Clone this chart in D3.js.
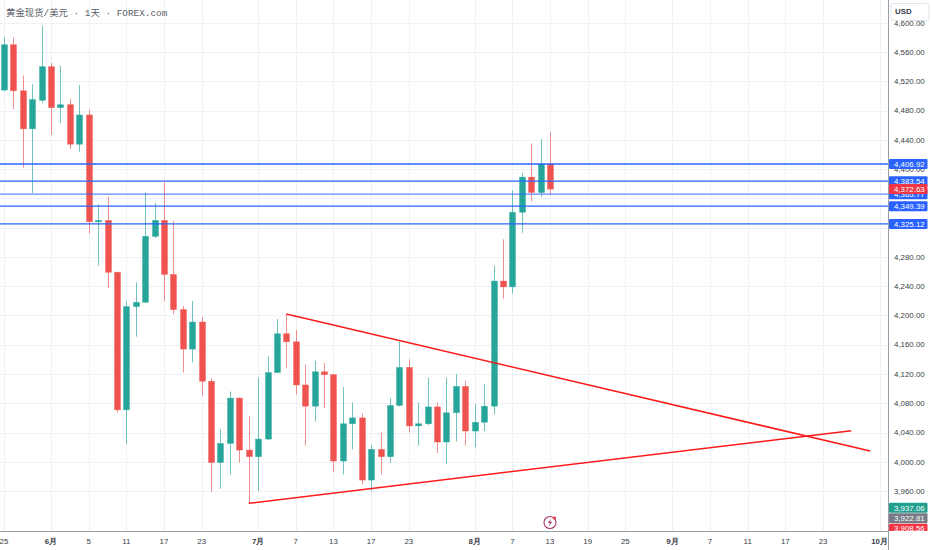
<!DOCTYPE html>
<html>
<head>
<meta charset="utf-8">
<script src="https://cdn.jsdelivr.net/npm/d3@7"></script>
<style>
    body { margin: 0; background: #ffffff; }
    svg { display: block; }
    .grid line { stroke: #eef1f6; stroke-width: 1; }
    .axisLine { stroke: #9a9da6; stroke-width: 1; }
    .priceText, .dateText { font-family: "Liberation Sans", Arial, sans-serif; font-size: 7.9px; fill: #3b3e48; }
    .dateText.month { font-weight: bold; }
    .title { font-family: "Liberation Mono", "Noto Sans CJK SC", monospace; font-size: 9.4px; fill: #5a5d68; }
    .level { stroke: #2962ff; stroke-width: 1.4; }
    .trend { stroke: #ff1a1a; stroke-width: 1.5; fill: none; }
    .up { fill: #26a69a; stroke: #26a69a; }
    .down { fill: #ef5350; stroke: #ef5350; }
    .wick.up { stroke: #26a69a; stroke-opacity: 0.65; }
    .wick.down { stroke: #ef5350; stroke-opacity: 0.65; }
</style>
</head>
<body>
<div id="chart"></div>
<script>

// first and last trading day on the time axis (weekdays only)
var firstDay = "2026-05-25";
var lastDay = "2026-10-14";

// daily candles of spot gold, starting on firstDay
var opens  = [4508, 4570, 4507, 4455, 4494, 4540, 4484, 4488, 4434, 4474,
              4328, 4330, 4259, 4071, 4212, 4218, 4308, 4330, 4256, 4208,
              4154, 4191, 4110, 3999, 4025, 4087, 4016, 4007, 4031, 4122,
              4175, 4164, 4105, 4076, 4123, 4119, 4001, 4052, 4060, 3975,
              4017, 4007, 4077, 4129, 4049, 4052, 4075, 4027, 4067, 4103,
              4042, 4054, 4076, 4247, 4239, 4341, 4389, 4368, 4406.92];
var highs  = [4580, 4580, 4528, 4516, 4596, 4545, 4541, 4496, 4515, 4481,
              4352, 4362, 4260, 4219, 4245, 4368, 4354, 4382, 4329, 4213,
              4220, 4198, 4114, 4044, 4096, 4088, 4062, 4115, 4144, 4195,
              4202, 4180, 4133, 4138, 4135, 4120, 4102, 4081, 4066, 4023,
              4040, 4087, 4165, 4140, 4081, 4115, 4081, 4115, 4120, 4111,
              4079, 4106, 4268, 4304, 4371, 4395, 4435, 4441, 4450];
var lows   = [4506, 4482, 4402, 4367, 4490, 4447, 4463, 4427, 4424, 4312,
              4268, 4237, 4067, 4024, 4171, 4217, 4306, 4220, 4202, 4122,
              4136, 4090, 3959, 3963, 3983, 3999, 3943, 3960, 4030, 4121,
              4128, 4092, 4022, 4055, 4073, 3986, 3983, 4017, 3969, 3960,
              3983, 3999, 4076, 4040, 4022, 4050, 4012, 3997, 4028, 4022,
              4020, 4042, 4065, 4223, 4230, 4313, 4356, 4362, 4365.77];
var closes = [4570, 4507, 4455, 4495, 4540, 4484, 4488, 4434, 4474, 4328,
              4330, 4259, 4071, 4212, 4218, 4308, 4330, 4256, 4208, 4154,
              4191, 4110, 3999, 4025, 4087, 4016, 4007, 4031, 4122, 4175,
              4164, 4105, 4076, 4123, 4119, 4001, 4052, 4060, 3975, 4017,
              4007, 4077, 4129, 4049, 4052, 4075, 4027, 4067, 4103, 4042,
              4054, 4076, 4247, 4239, 4341, 4389, 4368, 4406.92, 4372.63];

// time axis labels
var tickDates  = ["2026-05-25", "2026-06-01", "2026-06-05", "2026-06-11", "2026-06-17", "2026-06-23",
                  "2026-07-01", "2026-07-07", "2026-07-13", "2026-07-17", "2026-07-23",
                  "2026-08-03", "2026-08-07", "2026-08-13", "2026-08-19", "2026-08-25",
                  "2026-09-01", "2026-09-07", "2026-09-11", "2026-09-17", "2026-09-23", "2026-10-01"];
var tickLabels = ["25", "6月", "5", "11", "17", "23",
                  "7月", "7", "13", "17", "23",
                  "8月", "7", "13", "19", "25",
                  "9月", "7", "11", "17", "23", "10月"];

// price axis labels
var priceTicks = [3960, 4000, 4040, 4080, 4120, 4160, 4200, 4240, 4280,
                  4320, 4360, 4400, 4440, 4480, 4520, 4560, 4600];

// horizontal levels drawn on the chart
var levelPrices = [4406.92, 4383.54, 4365.77, 4349.39, 4325.12];
var lastPrice = 4372.63;

// labels stacked at the foot of the price scale
var footPrices = [3937.06, 3922.81, 3908.56];

// triangle drawn over the candles: [date, price]
var upperLine = [["2026-07-06", 4202], ["2026-09-30", 4014.7]];
var lowerLine = [["2026-06-30", 3943.2], ["2026-09-28", 4042.4]];

var eventDay = "2026-08-13";
var titleText = "黄金现货/美元 · 1天 · FOREX.com";

/**
 * Constructor for the candle chart
 */
function CandleChart() {
    var self = this;
    self.init();
}

/**
 * Sets up the svg, the scales and the trading calendar
 */
CandleChart.prototype.init = function () {
    var self = this;

    self.width = 932;
    self.height = 550;
    self.plotRight = 888;
    self.plotBottom = 531;

    var parseDay = d3.timeParse("%Y-%m-%d");
    self.fmtDay = d3.timeFormat("%Y-%m-%d");

    //weekdays only, like the daily bars
    self.tradingDays = d3.timeDay.range(parseDay(firstDay), parseDay(lastDay))
        .filter(function (d) { return d.getDay() !== 0 && d.getDay() !== 6; });
    self.dayIndex = {};
    self.tradingDays.forEach(function (d, i) { self.dayIndex[self.fmtDay(d)] = i; });

    self.x = d3.scaleLinear()
        .domain([-0.42, 93.9])
        .range([0, self.plotRight]);

    self.y = d3.scaleLinear()
        .domain([3905.4, 4631.1])
        .range([self.plotBottom, 0]);

    self.svg = d3.select("#chart").append("svg")
        .attr("width", self.width)
        .attr("height", self.height);

    self.svg.append("clipPath").attr("id", "plotClip")
        .append("rect")
        .attr("x", 0).attr("y", 0)
        .attr("width", self.plotRight).attr("height", self.plotBottom);
};

CandleChart.prototype.xOf = function (day) {
    var self = this;
    return self.x(self.dayIndex[day]);
};

/**
 * Draws grid, candles, drawings and both axes
 */
CandleChart.prototype.update = function () {
    var self = this;
    var svg = self.svg;

    var candles = opens.map(function (o, i) {
        return {i: i, open: o, high: highs[i], low: lows[i], close: closes[i]};
    });

    //grid
    var grid = svg.append("g").attr("class", "grid");
    grid.selectAll(".vgrid").data(tickDates)
        .enter().append("line")
        .attr("x1", function (d) { return Math.round(self.xOf(d)) + 0.5; })
        .attr("x2", function (d) { return Math.round(self.xOf(d)) + 0.5; })
        .attr("y1", 0)
        .attr("y2", self.plotBottom);
    grid.selectAll(".hgrid").data(priceTicks)
        .enter().append("line")
        .attr("x1", 0)
        .attr("x2", self.plotRight)
        .attr("y1", function (d) { return Math.round(self.y(d)) + 0.5; })
        .attr("y2", function (d) { return Math.round(self.y(d)) + 0.5; });

    var plot = svg.append("g").attr("clip-path", "url(#plotClip)");

    //candles
    var bodyWidth = 6;
    var c = plot.selectAll(".candle").data(candles)
        .enter().append("g")
        .attr("class", "candle");
    c.append("line")
        .attr("class", function (d) { return "wick " + (d.close >= d.open ? "up" : "down"); })
        .attr("x1", function (d) { return Math.round(self.x(d.i)) + 0.5; })
        .attr("x2", function (d) { return Math.round(self.x(d.i)) + 0.5; })
        .attr("y1", function (d) { return self.y(d.high); })
        .attr("y2", function (d) { return self.y(d.low); })
        .attr("stroke-width", 1);
    c.append("rect")
        .attr("class", function (d) { return d.close >= d.open ? "up" : "down"; })
        .attr("x", function (d) { return Math.round(self.x(d.i)) + 0.5 - bodyWidth / 2; })
        .attr("y", function (d) { return self.y(Math.max(d.open, d.close)); })
        .attr("width", bodyWidth)
        .attr("height", function (d) {
            return Math.max(1.5, self.y(Math.min(d.open, d.close)) - self.y(Math.max(d.open, d.close)));
        })
        .attr("stroke-width", 0.6)
        .attr("stroke-opacity", 0.6);

    //levels
    plot.selectAll(".level").data(levelPrices)
        .enter().append("line")
        .attr("class", "level")
        .attr("x1", 0)
        .attr("x2", self.plotRight)
        .attr("y1", function (d) { return self.y(d); })
        .attr("y2", function (d) { return self.y(d); })
        .attr("stroke-opacity", function (d, i) { return i === 2 ? 0.75 : 1; })
        .attr("stroke-width", function (d, i) { return i === 2 ? 2 : 1.4; });

    //triangle
    var trend = d3.line()
        .x(function (d) { return self.xOf(d[0]); })
        .y(function (d) { return self.y(d[1]); });
    plot.selectAll(".trend").data([upperLine, lowerLine])
        .enter().append("path")
        .attr("class", "trend")
        .attr("d", trend);

    //event marker on the last bar
    var ev = plot.append("g")
        .attr("transform", "translate(" + self.xOf(eventDay) + "," + (self.plotBottom - 8.5) + ")");
    ev.append("circle").attr("r", 6).attr("fill", "#fff")
        .attr("stroke", "#a33a6c").attr("stroke-width", 1.1);
    ev.append("path")
        .attr("d", "M1.3,-4 L-2.2,0.6 L0,0.6 L-1.3,4 L2.2,-0.7 L0,-0.7 Z")
        .attr("fill", "#a33a6c");
    ev.append("circle").attr("cx", 4.5).attr("cy", -4.5).attr("r", 1.6).attr("fill", "#f23645");

    //title
    svg.append("text")
        .attr("class", "title")
        .attr("x", 6)
        .attr("y", 15.5)
        .attr("xml:space", "preserve")
        .text(titleText);

    //axes frame
    svg.append("line").attr("class", "axisLine")
        .attr("x1", self.plotRight + 0.5).attr("x2", self.plotRight + 0.5)
        .attr("y1", 0).attr("y2", self.height);
    svg.append("line").attr("class", "axisLine")
        .attr("x1", 0).attr("x2", self.plotRight + 0.5)
        .attr("y1", self.plotBottom + 0.5).attr("y2", self.plotBottom + 0.5);

    //time axis
    svg.selectAll(".dateText").data(tickDates)
        .enter().append("text")
        .attr("class", function (d, i) { return "dateText" + (tickLabels[i].indexOf("月") >= 0 ? " month" : ""); })
        .attr("x", function (d) { return self.xOf(d); })
        .attr("y", 544)
        .attr("text-anchor", "middle")
        .text(function (d, i) { return tickLabels[i]; });

    //price axis, grid labels too close to a level box are hidden
    var labelX = self.plotRight + 6;
    var shownTicks = priceTicks.filter(function (t) {
        return levelPrices.every(function (p) { return Math.abs(self.y(t) - self.y(p)) > 4.6; });
    });
    svg.selectAll(".priceText").data(shownTicks)
        .enter().append("text")
        .attr("class", "priceText")
        .attr("x", labelX)
        .attr("y", function (d) { return self.y(d); })
        .attr("dy", "0.35em")
        .text(function (d) { return d3.format(",.2f")(d); });

    var boxes = [];
    footPrices.forEach(function (p, i) {
        boxes.push({price: p, color: ["#22a08f", "#787b86", "#f23645"][i]});
    });
    boxes.push({price: levelPrices[0], color: "#2962ff"});
    boxes.push({price: levelPrices[1], color: "#2962ff"});
    boxes.push({price: levelPrices[2], color: "#2962ff"});
    boxes.push({price: lastPrice, color: "#f23645"});
    boxes.push({price: levelPrices[3], color: "#2962ff"});
    boxes.push({price: levelPrices[4], color: "#2962ff"});

    svg.append("clipPath").attr("id", "axisClip")
        .append("rect")
        .attr("x", self.plotRight + 1).attr("y", 0)
        .attr("width", self.width - self.plotRight).attr("height", self.plotBottom);

    var b = svg.append("g").attr("clip-path", "url(#axisClip)")
        .selectAll(".priceBox").data(boxes)
        .enter().append("g");
    b.append("rect")
        .attr("x", self.plotRight + 1)
        .attr("y", function (d) { return self.y(d.price) - 5; })
        .attr("width", 38.5)
        .attr("height", 10)
        .attr("rx", 1)
        .attr("fill", function (d) { return d.color; });
    b.append("text")
        .attr("class", "priceText")
        .attr("x", labelX)
        .attr("y", function (d) { return self.y(d.price); })
        .attr("dy", "0.35em")
        .style("fill", "#ffffff")
        .text(function (d) { return d3.format(",.2f")(d.price); });

    //currency box, it sits over the top grid label
    svg.append("rect")
        .attr("x", self.plotRight + 3).attr("y", 3.5)
        .attr("width", 38).attr("height", 17)
        .attr("rx", 2)
        .attr("fill", "#fff")
        .attr("stroke", "#e0e3eb");
    svg.append("text")
        .attr("class", "priceText")
        .attr("x", self.plotRight + 7)
        .attr("y", 11.5)
        .attr("dy", "0.35em")
        .style("font-weight", "bold")
        .text("USD");
};

var chart = new CandleChart();
chart.update();

</script>
</body>
</html>
